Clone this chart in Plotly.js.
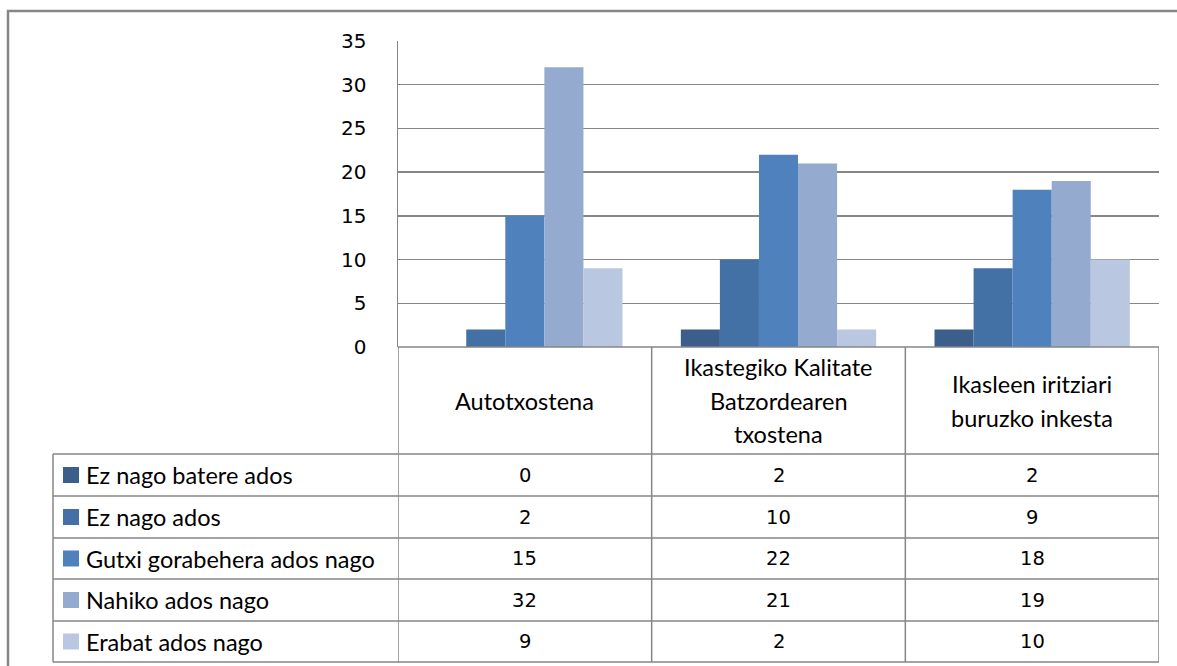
<!DOCTYPE html>
<html>
<head>
<meta charset="utf-8">
<script src="https://cdn.plot.ly/plotly-3.0.1.min.js"></script>
<style>
  html, body { margin: 0; padding: 0; background: #fff; }
  #chart { width: 1177px; height: 666px; }
</style>
</head>
<body>
<div id="chart"></div>
<script>
const categories = ['Autotxostena', 'Ikastegiko Kalitate<br>Batzordearen<br>txostena', 'Ikasleen iritziari<br>buruzko inkesta'];
const seriesNames = ['Ez nago batere ados', 'Ez nago ados', 'Gutxi gorabehera ados nago', 'Nahiko ados nago', 'Erabat ados nago'];
const ezBatere = [0, 2, 2];
const ezAdos = [2, 10, 9];
const gutxi = [15, 22, 18];
const nahiko = [32, 21, 19];
const erabat = [9, 2, 10];
const colors = ['#3b5e8b', '#4371a6', '#4f81bd', '#95aacf', '#bac7e0'];
const yTicks = [0, 5, 10, 15, 20, 25, 30, 35];

const series = [ezBatere, ezAdos, gutxi, nahiko, erabat];

// pixel -> paper helpers (plot area 398..1159 x 41..347)
const L = 398, R = 1159, T = 41, B = 347;
const px = x => (x - L) / (R - L);
const py = y => (B - y) / (B - T);

const lineColor = '#868686';
const tableFont = { family: 'Lato, "Open Sans", sans-serif', size: 23.5, color: '#000' };
const numFont = { family: '"DejaVu Sans", sans-serif', size: 19.5, color: '#000' };

const traces = series.map((vals, i) => ({
  type: 'bar',
  name: seriesNames[i],
  x: [0, 1, 2],
  y: vals,
  marker: { color: colors[i], line: { width: 0 } },
  hoverinfo: 'y'
}));

const shapes = [];
const annotations = [];

// outer chart frame
shapes.push({ type: 'rect', xref: 'paper', yref: 'paper',
  x0: px(8), x1: px(1200), y0: py(11), y1: py(690),
  line: { color: lineColor, width: 2.5 } });

// table rows
const rowTops = [454, 496, 538, 579, 621, 662];
const headerBottom = rowTops[0];

// horizontal lines
shapes.push({ type: 'line', xref: 'paper', yref: 'paper', x0: 0, x1: 1, y0: py(B), y1: py(B), line: { color: lineColor, width: 1.5 } });
rowTops.forEach(y => {
  shapes.push({ type: 'line', xref: 'paper', yref: 'paper', x0: px(53), x1: 1, y0: py(y), y1: py(y), line: { color: lineColor, width: 1.5 } });
});
// vertical lines at category boundaries
[-0.5, 0.5, 1.5, 2.5].forEach(xv => {
  shapes.push({ type: 'line', xref: 'x', yref: 'paper', x0: xv, x1: xv, y0: py(B), y1: py(662), line: { color: lineColor, width: 1.5 } });
});
shapes.push({ type: 'line', xref: 'paper', yref: 'paper', x0: px(53), x1: px(53), y0: py(headerBottom), y1: py(662), line: { color: lineColor, width: 1.5 } });

// category headers
categories.forEach((cat, ci) => {
  const lines = cat.split('<br>');
  const mid = (B + headerBottom) / 2;
  const step = 34;
  lines.forEach((ln, li) => {
    const yc = mid + (li - (lines.length - 1) / 2) * step;
    annotations.push({ xref: 'x', yref: 'paper', x: ci, y: py(yc), text: ln,
      showarrow: false, xanchor: 'center', yanchor: 'middle', font: tableFont });
  });
});

// legend rows + values
series.forEach((vals, si) => {
  const yc = (rowTops[si] + rowTops[si + 1]) / 2;
  shapes.push({ type: 'rect', xref: 'paper', yref: 'paper',
    x0: px(63), x1: px(79), y0: py(yc - 8), y1: py(yc + 8),
    fillcolor: colors[si], line: { width: 0 } });
  annotations.push({ xref: 'paper', yref: 'paper', x: px(84), y: py(yc), text: seriesNames[si],
    showarrow: false, xanchor: 'left', yanchor: 'middle', font: tableFont });
  vals.forEach((v, ci) => {
    annotations.push({ xref: 'x', yref: 'paper', x: ci, y: py(yc), text: String(v),
      showarrow: false, xanchor: 'center', yanchor: 'middle', font: numFont });
  });
});

const layout = {
  width: 1177, height: 666,
  margin: { l: L, r: 1177 - R, t: T, b: 666 - B, pad: 0 },
  paper_bgcolor: '#fff', plot_bgcolor: '#fff',
  barmode: 'group', bargap: 0.23, bargroupgap: 0,
  showlegend: false,
  xaxis: { range: [-0.5, 2.5], showticklabels: false, showgrid: false, zeroline: false, fixedrange: true },
  yaxis: {
    range: [0, 35], tickvals: yTicks, showgrid: true, gridcolor: lineColor, gridwidth: 1.5,
    zeroline: false, showline: true, linecolor: lineColor, linewidth: 1.5,
    ticks: '', ticklabelstandoff: 26,
    tickfont: { family: '"DejaVu Sans", sans-serif', size: 20, color: '#000' }
  },
  shapes, annotations
};

Plotly.newPlot('chart', traces, layout, { displayModeBar: false, staticPlot: true });
</script>
</body>
</html>
